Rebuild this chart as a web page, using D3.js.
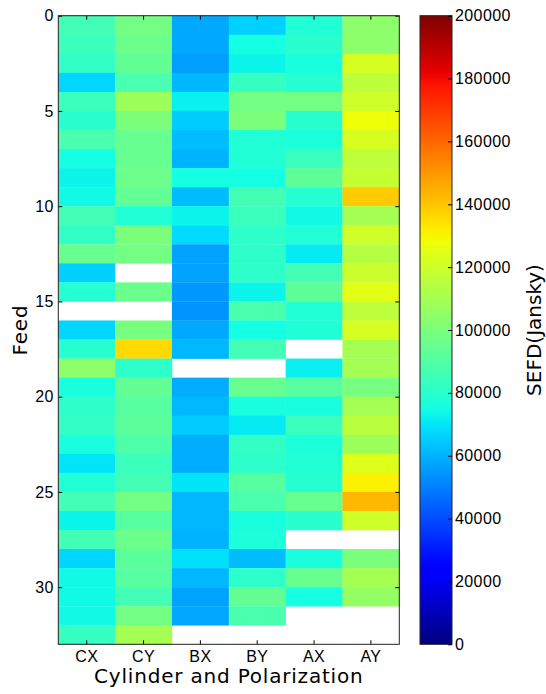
<!DOCTYPE html>
<html>
<head>
<meta charset="utf-8">
<script src="https://cdn.jsdelivr.net/npm/d3@7"></script>
<style>
  body { margin: 0; background: #fff; }
  svg { display: block; font-family: "DejaVu Sans", sans-serif; }
  .axis text { font-size: 16px; fill: #000; letter-spacing: 0.4px; }
  .axis path { display: none; }
  .axis line { stroke: #000; }
  .label { font-size: 20px; letter-spacing: 0.8px; }
</style>
</head>
<body>
<svg width="546" height="694"></svg>
<script>
// cylinder/polarization columns and SEFD per feed (null = no data)
var columns = ["CX", "CY", "BX", "BY", "AX", "AY"];
var nFeeds = 33;

var CX = [86000, 84000, 82000, 67000, 84000, 80000, 88000, 75000, 73000, 74000, 86000,
          82000, 95000, 66000, 79000, null, 67000, 79000, 104000, 76000, 81000, 82000,
          76000, 70000, 78000, 86000, 73000, 86000, 67000, 74000, 74000, 74000, 83000];
var CY = [98000, 96000, 94000, 88000, 108000, 100000, 95000, 95000, 96000, 94000, 78000,
          100000, 98000, null, 96000, null, 99000, 136000, 81000, 94000, 91000, 92000,
          89000, 84000, 86000, 98000, 91000, 96000, 92000, 91000, 86000, 98000, 110000];
var BX = [58000, 58000, 56000, 61000, 72000, 65000, 62000, 60000, 75000, 62000, 73000,
          68000, 57000, 57000, 55000, 54000, 58000, 61000, null, 59000, 61000, 65000,
          59000, 59000, 70000, 61000, 61000, 60000, 69000, 61000, 57000, 58000, null];
var BY = [66000, 75000, 73000, 83000, 98000, 100000, 78000, 78000, 75000, 86000, 84000,
          81000, 81000, 81000, 73000, 88000, 75000, 86000, null, 95000, 76000, 71000,
          82000, 81000, 91000, 88000, 76000, 77000, 62000, 81000, 94000, 88000, null];
var AX = [78000, 80000, 76000, 79000, 98000, 80000, 77000, 84000, 93000, 79000, 74000,
          78000, 71000, 86000, 93000, 78000, 78000, null, 72000, 91000, 76000, 84000,
          77000, 78000, 79000, 95000, 80000, null, 76000, 95000, 75000, null, null];
var AY = [104000, 104000, 122000, 116000, 120000, 128000, 122000, 116000, 118000, 139000, 110000,
          120000, 114000, 119000, 125000, 116000, 122000, 110000, 110000, 99000, 110000, 115000,
          108000, 124000, 131000, 143000, 120000, null, 100000, 110000, 106000, null, null];

var colorTicks = [0, 20000, 40000, 60000, 80000, 100000, 120000, 140000, 160000, 180000, 200000];
var feedTicks = [0, 5, 10, 15, 20, 25, 30];

var series = {CX: CX, CY: CY, BX: BX, BY: BY, AX: AX, AY: AY};

var cells = [];
columns.forEach(function(c) {
  series[c].forEach(function(v, i) {
    if (v != null) cells.push({col: c, feed: i, value: v});
  });
});

// matplotlib "jet"
var jr = d3.scaleLinear().domain([0, 0.35, 0.66, 0.89, 1]).range([0, 0, 1, 1, 0.5]).clamp(true),
    jg = d3.scaleLinear().domain([0, 0.125, 0.375, 0.64, 0.91, 1]).range([0, 0, 1, 1, 0, 0]).clamp(true),
    jb = d3.scaleLinear().domain([0, 0.11, 0.34, 0.65, 1]).range([0.5, 1, 1, 0, 0]).clamp(true);

function jet(t) {
  return d3.rgb(jr(t) * 255, jg(t) * 255, jb(t) * 255).toString();
}

var svg = d3.select("svg"),
    plotL = 58.3, plotR = 399.3, plotT = 15.7, plotB = 644.3;

var x = d3.scaleBand().domain(columns).range([plotL, plotR]).padding(0),
    y = d3.scaleLinear().domain([0, nFeeds]).range([plotT, plotB]),
    color = d3.scaleLinear().domain([0, 200000]).range([0, 1]);

svg.append("g")
    .selectAll("rect")
    .data(cells)
    .enter()
    .append("rect")
    .attr("x", function(d) { return x(d.col); })
    .attr("y", function(d) { return y(d.feed); })
    .attr("width", x.bandwidth() + 0.3)
    .attr("height", y(1) - y(0) + 0.3)
    .attr("fill", function(d) { return jet(color(d.value)); });

// axes, ticks pointing inward
svg.append("g")
    .attr("class", "axis")
    .attr("transform", "translate(" + plotL + ",0)")
    .call(d3.axisLeft(y).tickValues(feedTicks).tickSize(-4).tickPadding(4.5));

svg.append("g")
    .attr("class", "axis")
    .attr("transform", "translate(" + plotR + ",0)")
    .call(d3.axisRight(y).tickValues(feedTicks).tickSize(-4).tickFormat(""));

svg.append("g")
    .attr("class", "axis")
    .attr("transform", "translate(0," + plotB + ")")
    .call(d3.axisBottom(x).tickSize(-4).tickPadding(6));

svg.append("g")
    .attr("class", "axis")
    .attr("transform", "translate(0," + plotT + ")")
    .call(d3.axisTop(x).tickSize(-4).tickFormat(""));

svg.append("rect")
    .attr("x", plotL).attr("y", plotT)
    .attr("width", plotR - plotL).attr("height", plotB - plotT)
    .attr("fill", "none").attr("stroke", "#222").attr("stroke-width", 1);

svg.append("text")
    .attr("class", "label")
    .attr("x", (plotL + plotR) / 2)
    .attr("y", 683)
    .attr("text-anchor", "middle")
    .text("Cylinder and Polarization");

svg.append("text")
    .attr("class", "label")
    .attr("transform", "translate(27," + (plotT + plotB) / 2 + ") rotate(-90)")
    .attr("text-anchor", "middle")
    .text("Feed");

// colorbar
var cbLeft = 420, cbRight = 452;
var cy = d3.scaleLinear().domain([0, 200000]).range([plotB, plotT]);

var grad = svg.append("defs").append("linearGradient")
    .attr("id", "jet")
    .attr("x1", 0).attr("y1", 1).attr("x2", 0).attr("y2", 0);

grad.selectAll("stop")
    .data(d3.range(0, 1.0001, 0.01))
    .enter()
    .append("stop")
    .attr("offset", function(d) { return d; })
    .attr("stop-color", function(d) { return jet(d); });

svg.append("rect")
    .attr("x", cbLeft).attr("y", plotT)
    .attr("width", cbRight - cbLeft).attr("height", plotB - plotT)
    .attr("fill", "url(#jet)")
    .attr("stroke", "#222").attr("stroke-width", 1);

svg.append("g")
    .attr("class", "axis")
    .attr("transform", "translate(" + cbRight + ",0)")
    .call(d3.axisRight(cy).tickValues(colorTicks).tickSize(-4).tickPadding(3).tickFormat(d3.format("d")));

svg.append("text")
    .attr("transform", "translate(541," + (plotT + plotB) / 2 + ") rotate(-90)")
    .style("font-size", "20px")
    .attr("text-anchor", "middle")
    .text("SEFD(Jansky)");
</script>
</body>
</html>
